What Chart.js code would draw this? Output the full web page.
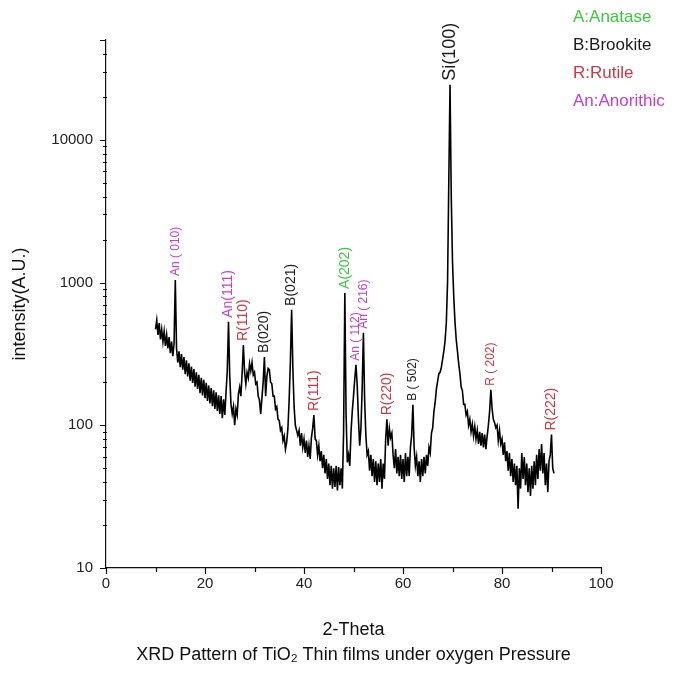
<!DOCTYPE html>
<html><head><meta charset="utf-8">
<script src="https://cdn.jsdelivr.net/npm/chart.js@4.4.0/dist/chart.umd.min.js"></script>
<style>html,body{margin:0;padding:0;background:#fff;}</style>
</head><body>
<canvas id="c" width="676" height="673"></canvas>
<script>
const twoTheta = [
10,10.25,10.5,10.75, 11,11.25,11.5,11.75, 12,12.25,12.5,12.75, 13,13.25,13.5,13.75,
14,14.25,14.5,14.75, 15,15.25,15.5,15.75, 16,16.25,16.5,16.75, 17,17.25,17.5,17.75,
18,18.25,18.5,18.75, 19,19.25,19.5,19.75, 20,20.25,20.5,20.75, 21,21.25,21.5,21.75,
22,22.25,22.5,22.75, 23,23.25,23.5,23.75, 24,24.25,24.5,24.75, 25,25.25,25.5,25.75,
26,26.25,26.5,26.75, 27,27.25,27.5,27.75, 28,28.25,28.5,28.75, 29,29.25,29.5,29.75,
30,30.25,30.5,30.75, 31,31.25,31.5,31.75, 32,32.25,32.5,32.75, 33,33.25,33.5,33.75,
34,34.25,34.5,34.75, 35,35.25,35.5,35.75, 36,36.25,36.5,36.75, 37,37.25,37.5,37.75,
38,38.25,38.5,38.75, 39,39.25,39.5,39.75, 40,40.25,40.5,40.75, 41,41.25,41.5,41.75,
42,42.25,42.5,42.75, 43,43.25,43.5,43.75, 44,44.25,44.5,44.75, 45,45.25,45.5,45.75,
46,46.25,46.5,46.75, 47,47.25,47.5,47.75, 48,48.25,48.5,48.75, 49,49.25,49.5,49.75,
50,50.25,50.5,50.75, 51,51.25,51.5,51.75, 52,52.25,52.5,52.75, 53,53.25,53.5,53.75,
54,54.25,54.5,54.75, 55,55.25,55.5,55.75, 56,56.25,56.5,56.75, 57,57.25,57.5,57.75,
58,58.25,58.5,58.75, 59,59.25,59.5,59.75, 60,60.25,60.5,60.75, 61,61.25,61.5,61.75,
62,62.25,62.5,62.75, 63,63.25,63.5,63.75, 64,64.25,64.5,64.75, 65,65.25,65.5,65.75,
66,66.25,66.5,66.75, 67,67.25,67.5,67.75, 68,68.25,68.5,68.75, 69,69.25,69.5,69.75,
70,70.25,70.5,70.75, 71,71.25,71.5,71.75, 72,72.25,72.5,72.75, 73,73.25,73.5,73.75,
74,74.25,74.5,74.75, 75,75.25,75.5,75.75, 76,76.25,76.5,76.75, 77,77.25,77.5,77.75,
78,78.25,78.5,78.75, 79,79.25,79.5,79.75, 80,80.25,80.5,80.75, 81,81.25,81.5,81.75,
82,82.25,82.5,82.75, 83,83.25,83.5,83.75, 84,84.25,84.5,84.75, 85,85.25,85.5,85.75,
86,86.25,86.5,86.75, 87,87.25,87.5,87.75, 88,88.25,88.5,88.75, 89,89.25,89.5,89.75,
90,90.25,90.5
];
const intensity = [
470,545,430,520, 400,470,385,455, 360,430,345,415, 320,385,305,375,
1040,345,275,330, 255,315,245,300, 228,285,220,272, 205,258,198,248,
186,235,180,226, 168,215,162,208, 155,198,148,190, 142,182,136,176,
130,170,126,162, 120,160,112,152, 118,170,240,530, 220,140,120,135,
100,130,118,165, 185,160,230,365, 235,195,235,215, 270,240,275,225,
235,195,200,160, 150,120,155,200, 301,160,220,250, 245,200,195,160,
160,130,135,110, 108,92,96,78, 84,68,76,95, 150,280,643,250,
135,100,92,85, 92,72,88,70, 80,64,78,60, 72,58,82,95,
118,80,78,62, 72,56,66,50, 62,46,58,42, 54,38,52,36,
50,37,52,35, 51,38,50,36, 90,845,120,55, 62,52,90,125,
160,210,265,190, 110,72,95,180, 444,150,85,62, 66,48,62,44,
58,40,56,38, 54,40,58,36, 54,42,80,110, 72,95,82,88,
62,50,68,46, 60,44,62,42, 58,40,64,44, 60,44,70,85,
139,70,52,60, 44,56,40,58, 44,60,46,62, 52,70,64,88,
96,125,145,180, 205,230,235,255, 290,330,390,520, 1000,5000,24300,4000,
1400,800,530,400, 330,270,230,185, 175,140,140,118, 125,100,110,90,
102,84,98,80, 92,74,90,72, 88,70,86,68, 84,100,125,177,
130,110,104,96, 100,78,92,74, 80,62,76,56, 66,48,64,44,
58,40,54,38, 52,26,50,36, 64,42,60,38, 54,34,50,32,
52,36,56,38, 62,42,68,48, 74,46,64,38, 54,34,56,62,
86,50,46
];
const xMajorTicks = [0,20,40,60,80,100];
const xMinorTicks = [10,30,50,70,90];
const yMajorTicks = [10,100,1000,10000];
const yMinorTicks = [20,30,40,50,60,70,80,90,200,300,400,500,600,700,800,900,
  2000,3000,4000,5000,6000,7000,8000,9000,20000,30000,40000];
const peakNames = ['An ( 010)','An(111)','R(110)','B(020)','B(021)','R(111)','A(202)',
  'An ( 112)','An ( 216)','R(220)','B ( 502)','Si(100)','R ( 202)','R(222)'];
const peakTheta = [14,24.75,27.75,32,37.5,42,48.25,50.5,52,56.75,62,69.5,77.75,90];
const peakTop = [1040,530,365,301,643,118,845,265,444,110,139,24300,177,86];
const peakPhase = ['An','An','R','B','B','R','A','An','An','R','B','Si','R','R'];
const legendTexts = ['A:Anatase','B:Brookite','R:Rutile','An:Anorithic'];
const legendPhase = ['A','B','R','An'];

const phaseColor = {A:'#3fc83f', B:'#1c1c1c', R:'#c83a44', An:'#c23fcc', Si:'#1c1c1c'};
const FONT = "'Liberation Sans', Arial, sans-serif";

const decor = {
  id: 'decor',
  afterDraw(chart) {
    const ctx = chart.ctx;
    const xs = chart.scales.x, ys = chart.scales.y;
    const ca = chart.chartArea;
    ctx.save();
    ctx.strokeStyle = '#111';
    ctx.lineWidth = 1.2;
    ctx.beginPath();
    yMajorTicks.forEach(v => { const p = Math.round(ys.getPixelForValue(v)) + 0.5; ctx.moveTo(ca.left - 6, p); ctx.lineTo(ca.left, p); });
    yMinorTicks.forEach(v => { const p = Math.round(ys.getPixelForValue(v)) + 0.5; ctx.moveTo(ca.left - 3, p); ctx.lineTo(ca.left + 1, p); });
    ctx.moveTo(ca.left - 6, ca.top + 0.5); ctx.lineTo(ca.left, ca.top + 0.5);
    xMajorTicks.forEach(v => { const p = Math.round(xs.getPixelForValue(v)) + 0.5; ctx.moveTo(p, ca.bottom); ctx.lineTo(p, ca.bottom + 6); });
    xMinorTicks.forEach(v => { const p = Math.round(xs.getPixelForValue(v)) + 0.5; ctx.moveTo(p, ca.bottom); ctx.lineTo(p, ca.bottom + 4); });
    ctx.stroke();

    ctx.textAlign = 'left';
    ctx.textBaseline = 'middle';
    peakNames.forEach((name, i) => {
      const px = xs.getPixelForValue(peakTheta[i]);
      const py = ys.getPixelForValue(peakTop[i]) - 4;
      const size = peakPhase[i] === 'Si' ? 18 : (name.indexOf(' ') >= 0 ? 12 : 14);
      ctx.font = size + 'px ' + FONT;
      ctx.fillStyle = phaseColor[peakPhase[i]];
      ctx.save();
      ctx.translate(px, py);
      ctx.rotate(-Math.PI / 2);
      ctx.fillText(name, 0, 0);
      ctx.restore();
    });

    ctx.font = '17px ' + FONT;
    legendTexts.forEach((t, i) => {
      ctx.fillStyle = phaseColor[legendPhase[i]];
      ctx.fillText(t, 573, 17 + i * 28);
    });
    ctx.restore();
  }
};

new Chart(document.getElementById('c'), {
  type: 'line',
  data: {
    datasets: [{
      data: twoTheta.map((t, i) => ({x: t, y: intensity[i]})),
      borderColor: '#000',
      borderWidth: 1.6,
      pointRadius: 0,
      tension: 0,
      fill: false
    }]
  },
  options: {
    responsive: false,
    animation: false,
    devicePixelRatio: 1,
    layout: {padding: {top: 40, right: 75, left: 0, bottom: 0}},
    plugins: {legend: {display: false}, title: {display: false}, tooltip: {enabled: false}},
    scales: {
      x: {
        type: 'linear', position: 'bottom', min: 0, max: 100,
        afterFit: s => { s.height = 105; },
        afterBuildTicks: s => { s.ticks = xMajorTicks.concat(xMinorTicks).sort((a, b) => a - b).map(v => ({value: v})); },
        grid: {display: false, drawTicks: false},
        border: {display: true, color: '#111', width: 1.2},
        ticks: {autoSkip: false, maxRotation: 0, padding: 7, color: '#222',
          font: {family: FONT, size: 15},
          callback: v => xMajorTicks.includes(v) ? String(v) : ''},
        title: {display: true, text: ['2-Theta', 'XRD Pattern of TiO\u2082 Thin films under oxygen Pressure'],
          color: '#111', font: {family: FONT, size: 18, lineHeight: 25 / 18}, padding: {top: 0, bottom: 5}}
      },
      y: {
        type: 'logarithmic', position: 'left', min: 10, max: 50000,
        afterFit: s => { s.width = 106; },
        afterBuildTicks: s => { s.ticks = yMajorTicks.concat(yMinorTicks).sort((a, b) => a - b).map(v => ({value: v})); },
        grid: {display: false, drawTicks: false},
        border: {display: true, color: '#111', width: 1.2},
        ticks: {autoSkip: false, padding: 13, color: '#222',
          font: {family: FONT, size: 15},
          callback: v => yMajorTicks.includes(v) ? String(v) : ''},
        title: {display: true, text: 'intensity(A.U.)', color: '#111',
          font: {family: FONT, size: 18}, padding: {top: 9, bottom: 0}}
      }
    }
  },
  plugins: [decor]
});
</script>
</body></html>
